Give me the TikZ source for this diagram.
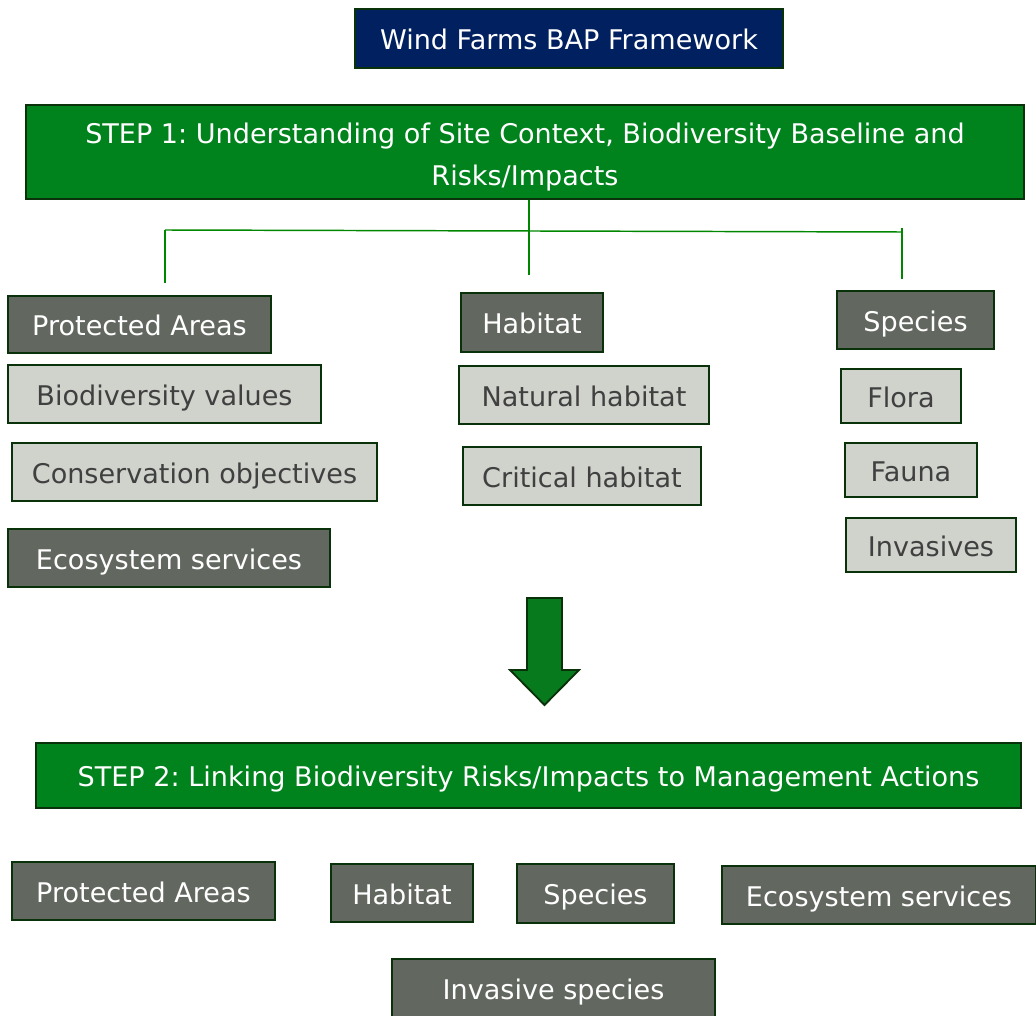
\documentclass[tikz,border=0pt]{standalone}
\usepackage{fontspec}
\setmainfont{DejaVu Sans}
\frenchspacing
\definecolor{navy}{RGB}{0,32,96}
\definecolor{stepgreen}{RGB}{0,130,28}
\definecolor{arrowgreen}{RGB}{8,122,30}
\definecolor{bordergreen}{RGB}{10,50,10}
\definecolor{darkfill}{RGB}{98,104,96}
\definecolor{lightfill}{RGB}{208,210,204}
\definecolor{lighttext}{RGB}{64,64,64}
\definecolor{linegreen}{RGB}{0,135,0}
\begin{document}
\begin{tikzpicture}[x=0.75pt,y=-0.75pt,
  sz/.style 2 args={minimum width=#1*0.75pt, minimum height=#2*0.75pt, inner sep=0pt},
  basebox/.style={draw=bordergreen, line width=1.6pt, font=\fontsize{20.3}{32}\selectfont,
    text height=19pt, text depth=2pt},
  darkbox/.style={basebox, fill=darkfill, text=white},
  lightbox/.style={basebox, fill=lightfill, text=lighttext},
  stepbox/.style={basebox, fill=stepgreen, text=white},
  titlebox/.style={basebox, fill=navy, text=white},
  conn/.style={draw=linegreen, line width=1.1pt}]
\useasboundingbox (0,0) rectangle (1036,1016);

\node[titlebox, sz={428}{59}] (title) at (569,38.5) {Wind Farms BAP Framework};
\node[stepbox, sz={998}{94}] (step1) at (525,152) {};
\node[text=white, font=\fontsize{20.3}{32}\selectfont, align=center, inner sep=0pt] (step1text) at (525,157)
  {STEP 1: Understanding of Site Context, Biodiversity Baseline and\\Risks/Impacts};

\coordinate (hl) at (165,230);
\coordinate (hr) at (902,232);
\coordinate (hrt) at (902,228);
\coordinate (vl) at (165,283);
\coordinate (vm) at (529,275);
\coordinate (vr) at (902,279);
\draw[conn] (step1.south -| vm) -- (vm);
\draw[conn] (hl) -- (hr);
\draw[conn] (hl) -- (vl);
\draw[conn] (hrt) -- (vr);

\node[darkbox, sz={263}{57}] (pa) at (139.5,324.5) {Protected Areas};
\node[lightbox, sz={313}{58}] (bv) at (164.5,394) {Biodiversity values};
\node[lightbox, sz={365}{58}] (co) at (194.5,472) {Conservation objectives};
\node[darkbox, sz={322}{58}] (es) at (169,558) {Ecosystem services};

\node[darkbox, sz={142}{59}] (hab) at (532,322.5) {Habitat};
\node[lightbox, sz={250}{58}] (nh) at (584,395) {Natural habitat};
\node[lightbox, sz={238}{58}] (ch) at (582,476) {Critical habitat};

\node[darkbox, sz={157}{58}] (sp) at (915.5,320) {Species};
\node[lightbox, sz={120}{54}] (fl) at (901,396) {Flora};
\node[lightbox, sz={132}{54}] (fa) at (911,470) {Fauna};
\node[lightbox, sz={170}{54}] (inv) at (931,545) {Invasives};

\draw[fill=arrowgreen, draw=bordergreen, line width=1.4pt, line join=miter]
  (527,598) -- (562,598) -- (562,670) -- (579,670) -- (544.5,705) -- (510,670) -- (527,670) -- cycle;

\node[stepbox, sz={985}{65}] (step2) at (528.5,775.5) {STEP 2: Linking Biodiversity Risks/Impacts to Management Actions};

\node[darkbox, sz={263}{58}] (bpa) at (143.5,891) {Protected Areas};
\node[darkbox, sz={142}{58}] (bhab) at (402,893) {Habitat};
\node[darkbox, sz={157}{59}] (bsp) at (595.5,893.5) {Species};
\node[darkbox, sz={314}{58}] (bes) at (879,895) {Ecosystem services};
\node[darkbox, sz={323}{58}] (binv) at (553.5,988) {Invasive species};
\end{tikzpicture}
\end{document}
